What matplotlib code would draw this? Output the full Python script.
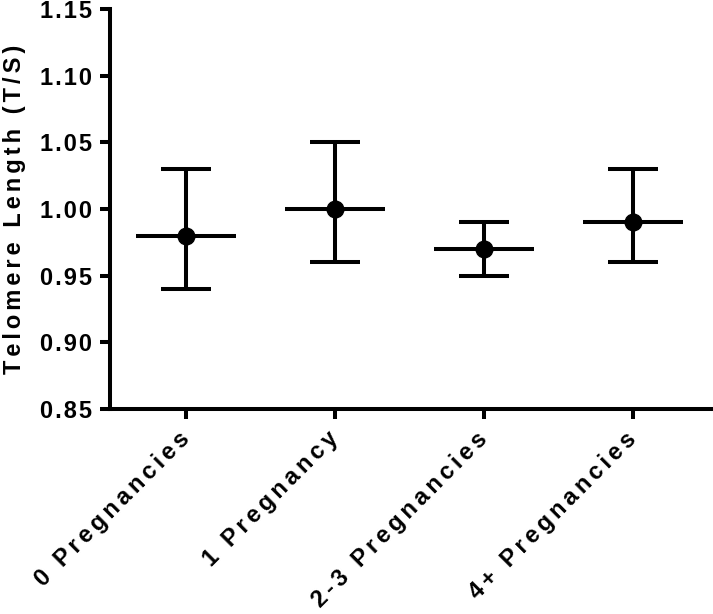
import matplotlib
matplotlib.use('Agg')
import matplotlib.pyplot as plt
import numpy as np

# data
groups = ['0 Pregnancies', '1 Pregnancy', '2-3 Pregnancies', '4+ Pregnancies']
means = [0.98, 1.00, 0.97, 0.99]
lower = [0.94, 0.96, 0.95, 0.96]
upper = [1.03, 1.05, 0.99, 1.03]
yticks = [0.85, 0.90, 0.95, 1.00, 1.05, 1.10, 1.15]

plt.rcParams['font.family'] = ['Liberation Sans', 'DejaVu Sans']
plt.rcParams['font.weight'] = 'bold'
plt.rcParams['axes.labelweight'] = 'bold'


def spaced(s, n=1):
    # fake letter spacing with hair spaces
    return ('\u200a' * n).join(s)


fig = plt.figure(figsize=(7.13, 6.14), dpi=100)
ax = fig.add_axes([110 / 713, 1 - 409 / 614, 1 - 110 / 713, 400 / 614])

x = np.arange(len(groups))
lw = 2.9
for xi, m, lo, hi in zip(x, means, lower, upper):
    ax.plot([xi, xi], [lo, hi], color='black', lw=lw, solid_capstyle='butt')
    ax.plot([xi - 0.168, xi + 0.168], [lo, lo], color='black', lw=lw, solid_capstyle='butt')
    ax.plot([xi - 0.168, xi + 0.168], [hi, hi], color='black', lw=lw, solid_capstyle='butt')
    ax.plot([xi - 0.336, xi + 0.336], [m, m], color='black', lw=lw, solid_capstyle='butt')
ax.plot(x, means, 'o', color='black', markersize=12)

ax.set_xlim(-0.51, 3.54)
ax.set_ylim(0.85, 1.15)
ax.set_yticks(yticks)
ax.set_yticklabels([spaced('%.2f' % v, 1) for v in yticks], fontsize=17)
ax.set_xticks(x)
ax.set_xticklabels([spaced(g, 2) for g in groups], fontsize=17, rotation=45,
                   ha='right', va='center', rotation_mode='anchor')
ax.set_ylabel(spaced('Telomere Length (T/S)', 2), fontsize=17, labelpad=10)

for side in ['top', 'right']:
    ax.spines[side].set_visible(False)
for side in ['left', 'bottom']:
    ax.spines[side].set_linewidth(2.9)
ax.tick_params(axis='both', width=2.9, length=7, direction='out')
ax.tick_params(axis='y', pad=6)
ax.tick_params(axis='x', pad=12)

plt.savefig('out.png', dpi=100)
